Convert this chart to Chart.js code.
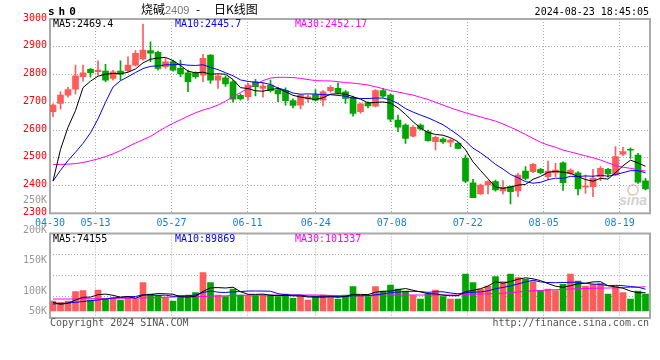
<!DOCTYPE html>
<html>
<head>
<meta charset="utf-8">
<script src="https://cdn.jsdelivr.net/npm/chart.js@4.4.1/dist/chart.umd.min.js"></script>
<style>
  body { margin: 0; background: #fff; }
  #wrap { position: relative; width: 660px; height: 360px; overflow: hidden; }
  canvas { position: absolute; left: 0; top: 0; }
  .t { position: absolute; white-space: pre; font: 10px/10px 'DejaVu Sans Mono', monospace; z-index: 5; }
  .cjk { font: 12px/12px 'Noto Sans CJK SC', sans-serif; }
</style>
</head>
<body>
<div id="wrap">
  <!-- logo sina en filigrane, sous les graphiques -->
  <div style="position:absolute;left:627px;top:184px;width:8px;height:8px;border:2px solid #e8cccc;border-radius:50%;z-index:0"></div>
  <div style="position:absolute;left:619px;top:193px;font:italic bold 14px/14px 'Liberation Sans',sans-serif;color:#d2d2d2;z-index:0">sina</div>

  <canvas id="kChart" width="660" height="360"></canvas>
  <canvas id="volChart" width="660" height="360"></canvas>

  <div class="t" style="left:48px;top:6px;font:bold 11px/11px 'DejaVu Sans Mono',monospace;letter-spacing:4px">sh0</div>
  <div class="t cjk" style="left:141px;top:3px">烧碱</div>
  <div class="t" style="left:165px;top:5px;font:11px/11px 'Liberation Sans',sans-serif;color:#777">2409</div>
  <div class="t cjk" style="left:196px;top:3px">-</div>
  <div class="t cjk" style="left:214px;top:3px">日K线图</div>
  <div class="t" style="right:11px;top:7px">2024-08-23 18:45:05</div>

  <div class="t" style="left:53px;top:19px;color:#000">MA5:2469.4</div>
  <div class="t" style="left:175px;top:19px;color:#0000ff">MA10:2445.7</div>
  <div class="t" style="left:295px;top:19px;color:#ff00ff">MA30:2452.17</div>

  <div class="t" style="left:53px;top:234px;color:#000">MA5:74155</div>
  <div class="t" style="left:175px;top:234px;color:#0000ff">MA10:89869</div>
  <div class="t" style="left:295px;top:234px;color:#ff00ff">MA30:101337</div>

  <div id="volLabels"></div>

  <div class="t" style="left:50px;top:318px;color:#555">Copyright 2024 SINA.COM</div>
  <div class="t" style="right:11px;top:318px;color:#555">http://finance.sina.com.cn</div>
</div>

<script>
// jours de cotation
const dates = [
  '04-30',
  '05-06','05-07','05-08','05-09','05-10',
  '05-13','05-14','05-15','05-16','05-17',
  '05-20','05-21','05-22','05-23','05-24',
  '05-27','05-28','05-29','05-30','05-31',
  '06-03','06-04','06-05','06-06','06-07',
  '06-11','06-12','06-13','06-14',
  '06-17','06-18','06-19','06-20','06-21',
  '06-24','06-25','06-26','06-27','06-28',
  '07-01','07-02','07-03','07-04','07-05',
  '07-08','07-09','07-10','07-11','07-12',
  '07-15','07-16','07-17','07-18','07-19',
  '07-22','07-23','07-24','07-25','07-26',
  '07-29','07-30','07-31','08-01','08-02',
  '08-05','08-06','08-07','08-08','08-09',
  '08-12','08-13','08-14','08-15','08-16',
  '08-19','08-20','08-21','08-22','08-23'
];
const tickLabels = ['04-30','05-13','05-27','06-11','06-24','07-08','07-22','08-05','08-19'];
const volTickLabels = ['250K','200K','150K','100K','50K'];

const open = [2666,2696,2726,2747,2792,2819,2810,2812,2786,2812,
  2814,2834,2856,2886,2880,2828,2846,2822,2806,2806,
  2798,2870,2780,2788,2774,2725,2720,2774,2750,2762,
  2744,2742,2706,2690,2712,2728,2708,2742,2750,2738,
  2718,2666,2698,2686,2742,2726,2636,2618,2578,2618,
  2594,2558,2567,2556,2552,2498,2410,2370,2402,2414,
  2381,2396,2381,2452,2450,2458,2432,2446,2482,2444,
  2446,2394,2396,2432,2458,2438,2513,2530,2510,2417];
const high = [2694,2738,2754,2834,2834,2822,2849,2837,2815,2849,
  2864,2886,2982,2918,2884,2858,2852,2852,2816,2810,
  2873,2872,2798,2795,2780,2730,2768,2783,2768,2780,
  2754,2752,2712,2728,2726,2746,2742,2760,2770,2742,
  2722,2697,2702,2746,2750,2730,2654,2622,2616,2622,
  2600,2578,2572,2568,2556,2510,2422,2405,2418,2420,
  2418,2398,2444,2468,2480,2462,2488,2480,2485,2460,
  2450,2438,2458,2468,2462,2540,2538,2536,2516,2426];
const low = [2648,2675,2718,2730,2776,2790,2798,2774,2780,2780,
  2810,2830,2852,2846,2816,2822,2812,2792,2738,2786,
  2774,2768,2750,2757,2700,2708,2708,2723,2718,2736,
  2702,2690,2680,2676,2700,2704,2687,2736,2730,2696,
  2650,2660,2680,2683,2718,2630,2594,2552,2575,2600,
  2560,2528,2552,2540,2532,2410,2356,2368,2370,2380,
  2370,2334,2360,2420,2446,2442,2420,2432,2382,2440,
  2366,2372,2360,2418,2430,2436,2508,2498,2408,2384];
const close = [2690,2726,2746,2795,2806,2807,2816,2780,2810,2801,
  2834,2876,2888,2877,2822,2846,2816,2802,2774,2792,
  2858,2780,2795,2766,2711,2712,2762,2756,2758,2742,
  2730,2706,2689,2726,2720,2708,2738,2754,2734,2714,
  2660,2694,2687,2742,2722,2639,2610,2570,2610,2604,
  2562,2574,2557,2564,2534,2416,2356,2402,2414,2384,
  2394,2378,2438,2426,2476,2446,2452,2456,2410,2456,
  2388,2398,2426,2462,2442,2504,2522,2527,2412,2388];

const ma5 = [2416,2530,2610,2670,2752.6,2776,2794,2800.8,2803.8,2802.8,
  2808.2,2820.2,2841.8,2855.2,2859.4,2861.8,2849.8,2832.6,2812,2806,
  2808.4,2801.2,2802.6,2801,2782,2752.8,2749.2,2741.4,2739.8,2746,
  2749.6,2738.4,2725,2718.6,2714.2,2709.8,2716.2,2729.2,2730.8,2729.6,
  2720,2711.2,2697.8,2699.4,2701,2696.8,2680,2656.6,2630.2,2606.6,
  2591.2,2584,2581.4,2572.2,2558.2,2529,2485.4,2454.4,2424.4,2394.4,
  2390,2394.4,2401.6,2404,2422.4,2432.8,2447.6,2451.2,2448,2444,
  2432.4,2421.6,2415.6,2426,2423.2,2446.4,2471.2,2491.4,2481.4,2469.4];
const ma10 = [2416,2455,2490,2520,2552,2590,2640,2700,2755,2777.7,
  2792.1,2807.1,2821.3,2829.5,2831.1,2835,2835,2837.2,2833.6,2832.7,
  2835.1,2825.5,2817.6,2806.5,2795.4,2780.6,2775.2,2772,2770.4,2764,
  2751.2,2743.8,2733.2,2729.2,2730.1,2729.7,2727.3,2727.1,2724.7,2721.9,
  2714.9,2713.7,2713.5,2715.1,2715.3,2708.4,2695.6,2677.2,2664.8,2653.8,
  2644,2632,2619,2601.2,2582.4,2560.1,2534.7,2517.9,2498.3,2476.3,
  2459.5,2439.9,2428,2414.2,2408.4,2411.4,2421,2426.4,2426,2433.2,
  2432.6,2434.6,2433.4,2437,2433.6,2439.4,2446.4,2453.5,2453.7,2445.7];
const ma30 = [2476,2476,2477,2479,2483,2489,2496,2504,2514,2526,
  2540,2553,2565,2577,2594,2610,2624,2637,2650,2662,
  2672,2680,2690,2704,2720,2735,2750,2764,2778,2787,
  2790,2790,2789,2786,2782,2778,2777,2777,2774,2771,
  2769,2766,2762,2756,2749,2742,2737,2731,2726,2718,
  2710,2700,2690,2680,2671,2662,2655,2647,2640,2632,
  2622,2610,2598,2584,2570,2556,2546,2538,2528,2521,
  2514,2507,2500,2492,2482,2472,2466,2462,2457,2452.17];

const volume = [40000,34800,40000,77200,81200,44000,84000,50800,53200,44000,
  57200,48000,113200,68000,61200,53200,40000,61200,64000,73200,
  153200,113200,64000,57200,88000,64000,61200,61200,64000,64000,
  57200,68000,50800,60000,44000,57200,64000,61200,48000,64000,
  97200,61200,57200,97200,80000,104000,88000,80000,61200,48000,
  68000,84000,57200,48000,48000,148000,113200,88000,100000,137200,
  117200,148000,133200,128000,117200,81200,88000,81200,106800,148000,
  120000,100000,106800,110800,68000,97200,73200,48000,80000,68000];
const volMa5 = [34800,26800,30800,44000,54800,55600,65200,67600,62800,55200,
  58000,50800,63200,66000,69600,68800,67200,56800,56000,58400,
  78400,92800,93600,92000,95200,77200,66800,66400,67600,62800,
  61600,62800,60800,60000,56000,56000,55200,57200,54800,58800,
  66800,66400,65600,75200,78400,80000,85200,90000,82800,76400,
  69200,68400,63600,61200,61200,77200,82800,89200,99600,117200,
  111200,118000,127200,132800,128800,121600,109600,99200,94800,101200,
  108800,111200,116400,117200,101200,96400,91200,79600,73200,73300];
const volMa10 = [28000,30000,32000,34800,38000,41200,44000,48000,52000,55000,
  56800,58000,65400,64400,62400,63400,59000,60000,61000,64000,
  73600,80000,75200,74000,76800,77800,79800,80000,79800,79000,
  69400,64800,63600,63800,59400,58800,59000,59000,57400,57400,
  61400,60800,61400,65000,68600,73400,75800,77800,79000,77400,
  74600,76800,76800,72000,68800,73200,75600,76400,80400,89200,
  94200,100400,108200,116200,123000,116400,113800,113200,113800,115000,
  115200,110400,107800,106000,101200,102600,101200,98000,95200,87200];
const volMa30 = [48000,48000,48000,48000,48800,49200,49600,50000,50400,50800,
  51200,51600,52000,52800,54000,55200,56000,56800,57200,57600,
  58000,59200,60000,60800,62000,62800,63200,63600,64000,64000,
  64000,64000,64000,64000,64000,64000,63200,62400,62000,61600,
  62000,62400,62400,63200,64000,64000,64000,64000,64000,64000,
  64000,64000,64000,64000,64000,66000,67200,68000,68800,70000,
  71200,73200,76000,78400,80800,82400,84000,85200,86400,88000,
  89200,90000,90800,91600,92000,92800,93600,94400,95200,97200];

const RED = '#ff5b5b';
const GREEN = '#00a600';
const MONO = "'DejaVu Sans Mono', monospace";
const n = dates.length;
const xMin = -0.4, xMax = n - 0.4;
const upDown = close.map((c, i) => c >= open[i] ? RED : GREEN);
const pts = arr => arr.map((v, i) => ({ x: i, y: v }));

// sina espace ses lignes de dates sur (n-1) intervalles, les bougies sur n
const tickValues = tickLabels.map(d => xMin + dates.indexOf(d) * n / (n - 1));

const frame = {
  id: 'frame',
  beforeDatasetsDraw(chart) {
    const { ctx, chartArea: a } = chart;
    ctx.save();
    ctx.strokeStyle = '#a9a9a9';
    ctx.lineWidth = 2;
    ctx.strokeRect(a.left, a.top, a.right - a.left, a.bottom - a.top);
    ctx.restore();
  }
};

function xAxis(showLabels, height) {
  return {
    type: 'linear', min: xMin, max: xMax, offset: false, bounds: 'data',
    afterBuildTicks: s => { s.ticks = tickValues.map(v => ({ value: v })); },
    afterFit: s => { s.height = height; },
    grid: { color: '#aaaaaa', drawTicks: false, offset: false },
    border: { display: false, dash: [1, 2] },
    ticks: {
      display: showLabels, autoSkip: false, maxRotation: 0, padding: 4,
      color: '#1a7fd4', font: { family: MONO, size: 10 },
      callback: (v, i) => tickLabels[i]
    }
  };
}

const lineDs = (label, arr, color) => ({
  type: 'line', label, data: pts(arr), borderColor: color, borderWidth: 1,
  pointRadius: 0, tension: 0, fill: false
});

// K线
new Chart(document.getElementById('kChart'), {
  type: 'bar',
  data: {
    datasets: [
      lineDs('MA5', ma5, '#000000'),
      lineDs('MA10', ma10, '#0000ff'),
      lineDs('MA30', ma30, '#ff00ff'),
      {
        label: 'body', data: open.map((o, i) => ({ x: i, y: [o, close[i]] })),
        backgroundColor: upDown, barThickness: 6, grouped: false, minBarLength: 1
      },
      {
        label: 'wick', data: low.map((l, i) => ({ x: i, y: [l, high[i]] })),
        backgroundColor: upDown, barThickness: 1, grouped: false
      }
    ]
  },
  options: {
    responsive: false, animation: false, devicePixelRatio: 1,
    layout: { padding: { top: 19, right: 10, left: 0, bottom: 0 } },
    plugins: { legend: { display: false }, tooltip: { enabled: false } },
    scales: {
      x: xAxis(true, 146.7),
      y: {
        min: 2300, max: 3000,
        afterFit: s => { s.width = 50; },
        grid: { color: '#aaaaaa', drawTicks: false },
        border: { display: false, dash: [1, 2] },
        ticks: {
          stepSize: 100, color: '#ff0000', padding: 3, labelOffset: -1,
          font: { family: MONO, size: 10 },
          callback: v => String(v)
        }
      }
    }
  },
  plugins: [frame]
});

// 成交量
const volMin = -28000, volMax = 310000;
new Chart(document.getElementById('volChart'), {
  type: 'bar',
  data: {
    datasets: [
      lineDs('MA5', volMa5, '#000000'),
      lineDs('MA10', volMa10, '#0000ff'),
      lineDs('MA30', volMa30, '#ff00ff'),
      {
        label: 'vol', data: pts(volume),
        backgroundColor: upDown, barThickness: 6, grouped: false
      }
    ]
  },
  options: {
    responsive: false, animation: false, devicePixelRatio: 1,
    layout: { padding: { top: 233.5, right: 10, left: 0, bottom: 42 } },
    plugins: { legend: { display: false }, tooltip: { enabled: false } },
    scales: {
      x: xAxis(false, 0),
      y: {
        min: volMin, max: volMax,
        afterBuildTicks: s => { s.ticks = [0, 1, 2, 3, 4].map(j => ({ value: volMin + j * (volMax - volMin) / 4 })); },
        afterFit: s => { s.width = 50; },
        grid: { color: '#aaaaaa', drawTicks: false },
        border: { display: false, dash: [1, 2] },
        ticks: { display: false }
      }
    }
  },
  plugins: [frame]
});

// étiquettes de l'axe du volume, placées comme sur sina
const volLabelTops = [195, 225, 255, 286, 306];
document.getElementById('volLabels').innerHTML = volTickLabels.map((t, i) =>
  `<div class="t" style="right:613px;top:${volLabelTops[i]}px;color:#999">${t}</div>`).join('');
</script>
</body>
</html>
